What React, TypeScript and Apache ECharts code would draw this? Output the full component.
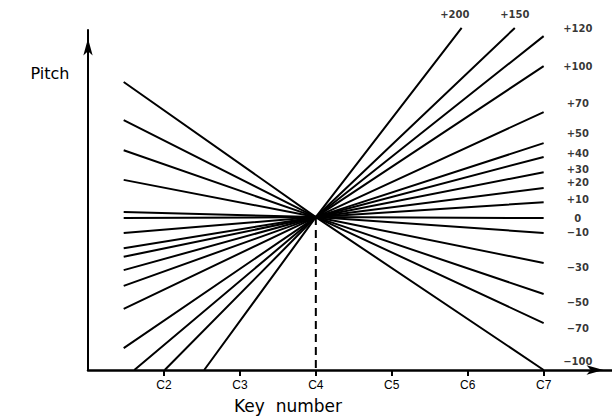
import React, { useEffect, useRef } from "react";
import * as echarts from "echarts";

// Stretch value of each line (label text), top to bottom on the right side
const stretchLabels = ["+200", "+150", "+120", "+100", "+70", "+50", "+40", "+30", "+20", "+10", "0", "−10", "−30", "−50", "−70", "−100"];
// Left end of each line (key number in octaves, pitch in cents)
const leftKey = [2.53, 2.01, 1.61, 1.47, 1.47, 1.47, 1.47, 1.47, 1.47, 1.47, 1.47, 1.47, 1.47, 1.47, 1.47, 1.47];
const leftPitch = [-300, -300, -300, -257, -180, -135, -104, -78, -61, -31, -2, 10, 73, 131, 190, 265];
// Common pivot (C4)
const pivotKey = 4;
const pivotPitch = 0;
// Right end of each line
const rightKey = [5.92, 6.62, 7, 7, 7, 7, 7, 7, 7, 7, 7, 7, 7, 7, 7, 7];
const rightPitch = [371, 371, 355, 296, 206, 145, 118, 88, 57, 29, -2, -31, -90, -151, -208, -300];
// Where each line's label sits
const labelKey = [5.83, 6.62, 7.45, 7.45, 7.45, 7.45, 7.45, 7.45, 7.45, 7.45, 7.45, 7.45, 7.45, 7.45, 7.45, 7.45];
const labelPitch = [398, 398, 369, 296, 222, 163, 125, 94, 67, 35, -2, -31, -98, -167, -218, -284];
// X axis tick labels
const keyTicks = [2, 3, 4, 5, 6, 7];
const keyTickLabels = ["C2", "C3", "C4", "C5", "C6", "C7"];
// Dashed marker at C4 down to the axis
const dashKey = [4, 4];
const dashPitch = [0, -300];

export default function App() {
  const ref = useRef<HTMLDivElement>(null);
  useEffect(() => {
    if (!ref.current) return;
    const chart = echarts.init(ref.current, null, { renderer: "svg" });
    const lineSeries = stretchLabels.map((name, i) => ({
      type: "line",
      name,
      data: [
        [leftKey[i], leftPitch[i]],
        [pivotKey, pivotPitch],
        [rightKey[i], rightPitch[i]],
      ],
      showSymbol: false,
      symbol: "none",
      clip: false,
      silent: true,
      lineStyle: { color: "#000", width: 2 },
      z: 3,
    }));
    chart.setOption({
      animation: false,
      backgroundColor: "#fff",
      grid: { left: 88, right: 0, top: 30, bottom: 48, containLabel: false, outerBoundsMode: "none" },
      xAxis: {
        type: "value",
        min: 1,
        max: 7.9,
        interval: 1,
        splitLine: { show: false },
        axisLine: {
          show: true,
          onZero: false,
          lineStyle: { color: "#000", width: 2.5 },
          symbol: ["none", "arrow"],
          symbolSize: [7, 17],
          symbolOffset: [0, -8.5],
        },
        axisTick: { show: true, customValues: keyTicks, length: 6, lineStyle: { color: "#000", width: 2 } },
        axisLabel: {
          customValues: keyTicks,
          formatter: (v: number) => keyTickLabels[keyTicks.indexOf(Math.round(v))] ?? "",
          color: "#000",
          fontSize: 12,
          fontFamily: "Liberation Sans",
          margin: 9,
        },
      },
      yAxis: {
        type: "value",
        min: -300,
        max: 367,
        splitLine: { show: false },
        axisLine: {
          show: true,
          onZero: false,
          lineStyle: { color: "#000", width: 2 },
          symbol: ["none", "arrow"],
          symbolSize: [7, 17],
          symbolOffset: [0, -8.5],
        },
        axisTick: { show: false },
        axisLabel: { show: false },
      },
      series: [
        ...lineSeries,
        {
          type: "line",
          data: dashKey.map((k, i) => [k, dashPitch[i]]),
          showSymbol: false,
          symbol: "none",
          silent: true,
          lineStyle: { color: "#000", width: 2, type: [8, 5] },
          z: 2,
        },
        {
          type: "scatter",
          data: stretchLabels.map((t, i) => [labelKey[i], labelPitch[i], t]),
          symbolSize: 1,
          clip: false,
          silent: true,
          itemStyle: { color: "rgba(0,0,0,0)" },
          label: {
            show: true,
            position: "inside",
            formatter: (p: any) => p.value[2],
            color: "#000",
            fontSize: 10,
            fontWeight: "bold",
            fontFamily: "DejaVu Sans",
            align: "center",
            verticalAlign: "middle",
          },
        },
      ],
      graphic: [
        {
          type: "text",
          x: 50,
          y: 73,
          style: {
            text: "Pitch",
            fill: "#000",
            font: "16px 'DejaVu Sans'",
            align: "center",
            verticalAlign: "middle",
          },
        },
        {
          type: "text",
          x: 288,
          y: 406,
          style: {
            text: "Key  number",
            fill: "#000",
            font: "17px 'DejaVu Sans'",
            align: "center",
            verticalAlign: "middle",
          },
        },
      ],
    });
    return () => chart.dispose();
  }, []);
  return (
    <div
      ref={ref}
      style={{ position: "absolute", left: 0, top: 0, width: 612, height: 418, background: "#fff" }}
    />
  );
}
